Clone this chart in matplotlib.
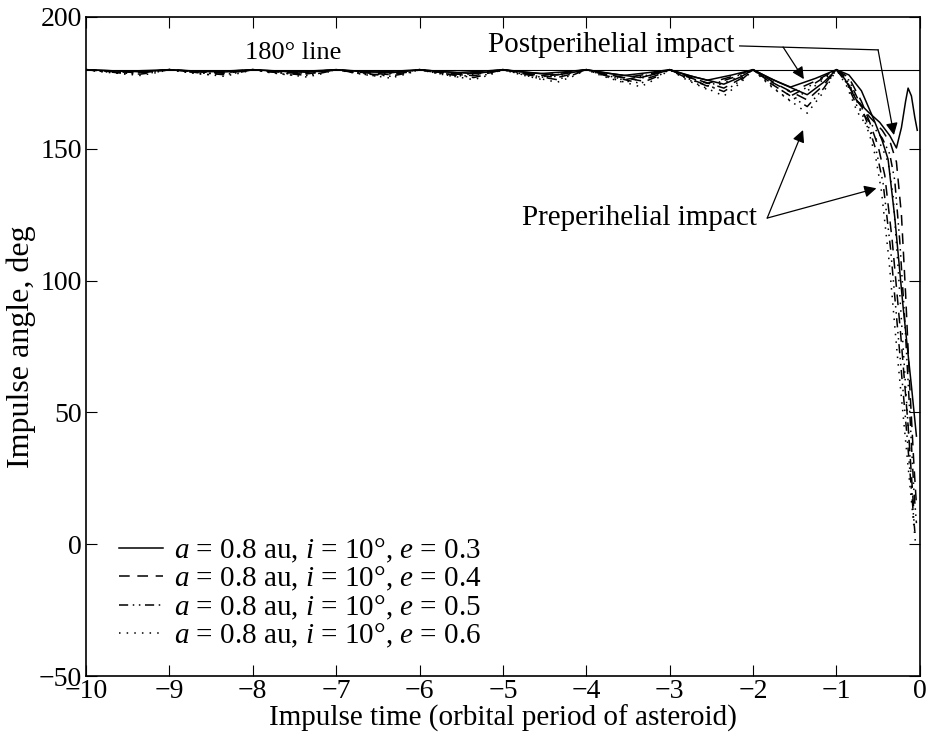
import matplotlib
matplotlib.use("Agg")
import matplotlib.pyplot as plt

plt.rcParams["font.family"] = ["Liberation Serif", "DejaVu Serif"]
plt.rcParams["mathtext.fontset"] = "custom"
plt.rcParams["mathtext.rm"] = "Liberation Serif"
plt.rcParams["mathtext.it"] = "Liberation Serif:italic"
plt.rcParams["font.size"] = 20

# eccentricities of the four runs
ecc = [0.3, 0.4, 0.5, 0.6]
styles = ["-", (0, (7, 5)), (0, (6, 3, 1, 3, 1, 3)), (0, (1, 4))]

# preperihelial branch, periods -10 .. -1 (peak, shoulder, dip, shoulder)
pre_x = [-10, -9.7, -9.35, -9.15,
         -9, -8.7, -8.35, -8.15,
         -8, -7.7, -7.35, -7.15,
         -7, -6.7, -6.35, -6.15,
         -6, -5.7, -5.35, -5.15,
         -5, -4.7, -4.35, -4.15,
         -4, -3.7, -3.35, -3.15,
         -3, -2.7, -2.35, -2.15,
         -2, -1.7, -1.35, -1.15]

pre_y_03 = [180, 179.6, 179.2, 179.6,
            180, 179.5, 179.1, 179.5,
            180, 179.5, 179.0, 179.5,
            180, 179.4, 178.8, 179.4,
            180, 179.2, 178.5, 179.2,
            180, 179.0, 178.0, 179.0,
            180, 178.5, 177.0, 178.5,
            180, 177.2, 174.5, 177.2,
            180, 175.3, 170.5, 175.3]
pre_y_04 = [180, 179.4, 178.8, 179.4,
            180, 179.3, 178.6, 179.3,
            180, 179.2, 178.4, 179.2,
            180, 179.0, 178.1, 179.0,
            180, 178.8, 177.7, 178.8,
            180, 178.5, 177.0, 178.5,
            180, 177.9, 175.8, 177.9,
            180, 176.5, 173.0, 176.5,
            180, 174.2, 168.5, 174.2]
pre_y_05 = [180, 179.1, 178.3, 179.1,
            180, 179.0, 178.1, 179.0,
            180, 178.9, 177.8, 178.9,
            180, 178.7, 177.5, 178.7,
            180, 178.5, 177.0, 178.5,
            180, 178.1, 176.2, 178.1,
            180, 177.4, 174.8, 177.4,
            180, 175.8, 171.7, 175.8,
            180, 173.0, 166.0, 173.0]
pre_y_06 = [180, 178.9, 177.8, 178.9,
            180, 178.7, 177.5, 178.7,
            180, 178.6, 177.2, 178.6,
            180, 178.4, 176.8, 178.4,
            180, 178.1, 176.2, 178.1,
            180, 177.6, 175.2, 177.6,
            180, 176.7, 173.5, 176.7,
            180, 175.0, 170.0, 175.0,
            180, 171.7, 163.5, 171.7]

# last period of the preperihelial branch (steep fall towards 0)
pre_tail_x_03 = [-1, -0.85, -0.7, -0.55, -0.45, -0.38, -0.3, -0.2, -0.1, -0.04]
pre_tail_y_03 = [180, 178, 172, 161, 153, 146, 124, 90, 60, 41]
pre_tail_x_04 = [-1, -0.85, -0.7, -0.6, -0.5, -0.42, -0.33, -0.23, -0.14, -0.07]
pre_tail_y_04 = [180, 177, 168, 160, 151, 140, 115, 80, 45, 12]
pre_tail_x_05 = [-1, -0.85, -0.7, -0.6, -0.52, -0.44, -0.35, -0.25, -0.15, -0.06]
pre_tail_y_05 = [180, 176, 166, 157, 149, 137, 112, 76, 40, 5]
pre_tail_x_06 = [-1, -0.85, -0.7, -0.6, -0.53, -0.46, -0.37, -0.27, -0.16, -0.05]
pre_tail_y_06 = [180, 175, 164, 155, 147, 134, 108, 72, 36, 0]

# postperihelial branch, periods -10 .. -1
post_x = [-10, -9.8, -9.55, -9.25,
          -9, -8.8, -8.55, -8.25,
          -8, -7.8, -7.55, -7.25,
          -7, -6.8, -6.55, -6.25,
          -6, -5.8, -5.55, -5.25,
          -5, -4.8, -4.55, -4.25,
          -4, -3.8, -3.55, -3.25,
          -3, -2.8, -2.55, -2.25,
          -2, -1.8, -1.55, -1.25]

post_y_03 = [180, 179.7, 179.4, 179.7,
             180, 179.6, 179.3, 179.6,
             180, 179.6, 179.2, 179.6,
             180, 179.5, 179.1, 179.5,
             180, 179.4, 178.9, 179.4,
             180, 179.2, 178.5, 179.2,
             180, 178.9, 177.8, 178.9,
             180, 178.0, 176.0, 178.0,
             180, 176.7, 173.4, 176.7]
post_y_04 = [180, 179.5, 179.1, 179.5,
             180, 179.5, 179.0, 179.5,
             180, 179.4, 178.8, 179.4,
             180, 179.3, 178.6, 179.3,
             180, 179.1, 178.3, 179.1,
             180, 178.9, 177.8, 178.9,
             180, 178.4, 176.9, 178.4,
             180, 177.4, 174.8, 177.4,
             180, 175.7, 171.5, 175.7]
post_y_05 = [180, 179.3, 178.7, 179.3,
             180, 179.3, 178.6, 179.3,
             180, 179.2, 178.4, 179.2,
             180, 179.0, 178.1, 179.0,
             180, 178.9, 177.8, 178.9,
             180, 178.6, 177.2, 178.6,
             180, 178.0, 176.1, 178.0,
             180, 176.9, 173.8, 176.9,
             180, 175.0, 170.0, 175.0]
post_y_06 = [180, 179.2, 178.4, 179.2,
             180, 179.0, 178.1, 179.0,
             180, 178.9, 177.9, 178.9,
             180, 178.8, 177.6, 178.8,
             180, 178.6, 177.2, 178.6,
             180, 178.2, 176.4, 178.2,
             180, 177.5, 175.1, 177.5,
             180, 176.2, 172.5, 176.2,
             180, 174.0, 168.0, 174.0]

post_tail_x_03 = [-1, -0.9, -0.76, -0.62, -0.48, -0.36, -0.28, -0.22, -0.17, -0.14, -0.1, -0.06, -0.03]
post_tail_y_03 = [180, 176.5, 168.5, 164, 160, 155, 150.3, 158, 168, 173, 170, 162, 157]
post_tail_x_04 = [-1, -0.88, -0.75, -0.6, -0.45, -0.35, -0.28, -0.22, -0.17, -0.12, -0.07, -0.04]
post_tail_y_04 = [180, 176, 168, 162, 157, 152, 145, 125, 95, 60, 30, 15]
post_tail_x_05 = [-1, -0.88, -0.75, -0.6, -0.45, -0.36, -0.3, -0.24, -0.18, -0.12, -0.07, -0.04]
post_tail_y_05 = [180, 175, 166, 160, 154, 148, 138, 115, 85, 50, 20, 8]
post_tail_x_06 = [-1, -0.88, -0.75, -0.6, -0.46, -0.38, -0.32, -0.26, -0.2, -0.13, -0.08, -0.05]
post_tail_y_06 = [180, 174, 164, 157, 151, 145, 132, 105, 75, 40, 12, 2]

pre_y = [pre_y_03, pre_y_04, pre_y_05, pre_y_06]
pre_tail = [(pre_tail_x_03, pre_tail_y_03), (pre_tail_x_04, pre_tail_y_04),
            (pre_tail_x_05, pre_tail_y_05), (pre_tail_x_06, pre_tail_y_06)]
post_y = [post_y_03, post_y_04, post_y_05, post_y_06]
post_tail = [(post_tail_x_03, post_tail_y_03), (post_tail_x_04, post_tail_y_04),
             (post_tail_x_05, post_tail_y_05), (post_tail_x_06, post_tail_y_06)]

fig = plt.figure(figsize=(9.3, 7.36), dpi=100)
ax = fig.add_axes([0.0925, 0.0815, 0.8965, 0.8955])

ax.axhline(180, color="black", lw=0.8)

for k, e in enumerate(ecc):
    lab = rf"$a$ = 0.8 au, $i$ = 10°, $e$ = {e}"
    ax.plot(pre_x + pre_tail[k][0], pre_y[k] + pre_tail[k][1],
            color="black", lw=1.1, linestyle=styles[k], label=lab)
    ax.plot(post_x + post_tail[k][0], post_y[k] + post_tail[k][1],
            color="black", lw=1.1, linestyle=styles[k])

ax.text(-7.52, 182, "180° line", ha="center", va="bottom", fontsize=19)

arrow = dict(arrowstyle="-|>", color="black", lw=0.9, mutation_scale=18, shrinkA=0, shrinkB=0)

# postperihelial label: leader line with two arrows hanging off it
ax.text(-2.22, 189.4, "Postperihelial impact", ha="right", va="center", fontsize=21)
ax.plot([-2.16, -0.50], [189.0, 187.5], color="black", lw=0.9)
ax.annotate("", xy=(-1.39, 176.4), xytext=(-1.64, 188.6), arrowprops=arrow)
ax.annotate("", xy=(-0.31, 155.2), xytext=(-0.50, 187.5), arrowprops=arrow)

ax.text(-1.95, 123.7, "Preperihelial impact", ha="right", va="center", fontsize=21)
ax.annotate("", xy=(-1.40, 157.1), xytext=(-1.83, 123.7), arrowprops=arrow)
ax.annotate("", xy=(-0.52, 135.0), xytext=(-1.83, 123.7), arrowprops=arrow)

ax.set_xlim(-10, 0)
ax.set_ylim(-50, 200)
ax.set_xticks(range(-10, 1))
ax.set_yticks(range(-50, 201, 50))
ax.tick_params(direction="in", top=True, right=True, length=8, labelsize=20, pad=3)
ax.tick_params(axis="x", pad=2)
for s in ax.spines.values():
    s.set_linewidth(1.2)

ax.set_xlabel("Impulse time (orbital period of asteroid)", fontsize=21, labelpad=1)
ax.set_ylabel("Impulse angle, deg", fontsize=23, labelpad=2)

ax.legend(loc="lower left", bbox_to_anchor=(0.008, 0.0), frameon=False,
          handlelength=1.5, handletextpad=0.4, labelspacing=0.0, fontsize=21)

fig.savefig("out.png", dpi=100)
